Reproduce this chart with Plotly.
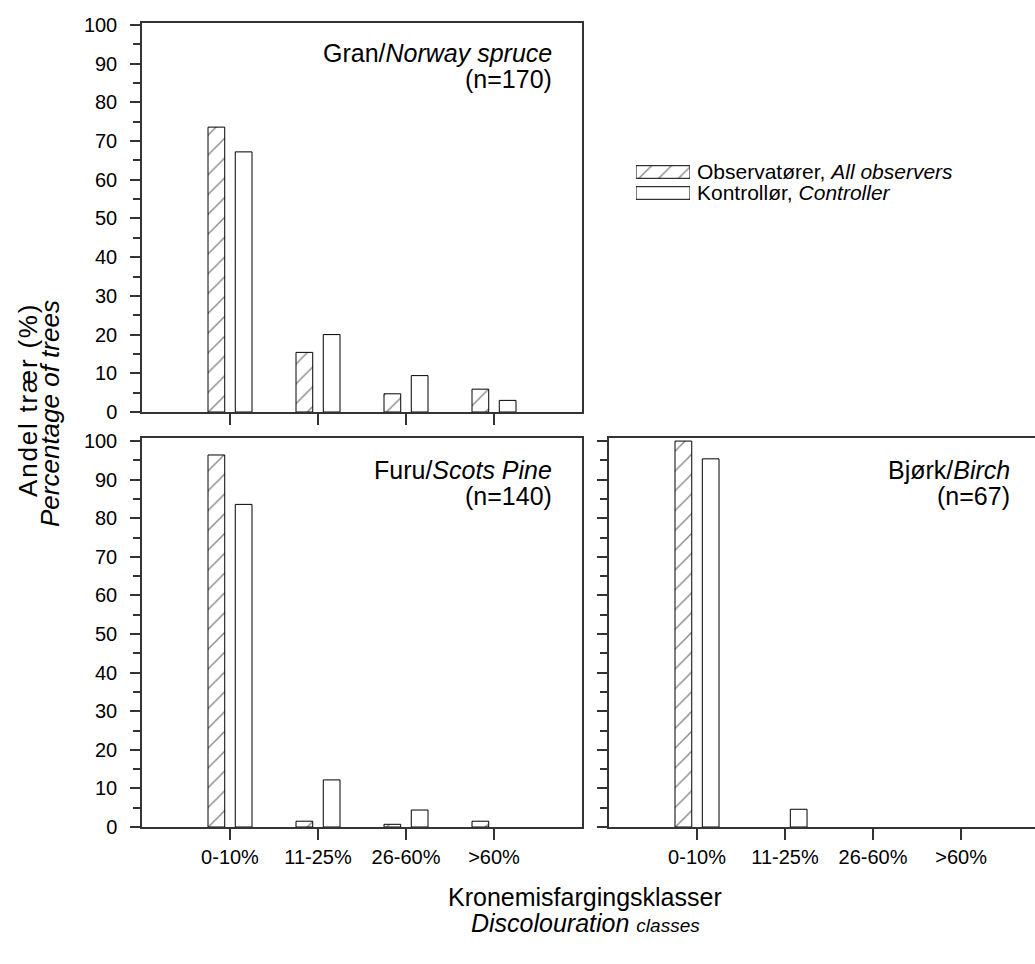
import plotly.graph_objects as go

W, H = 1035, 964

categories = ["0-10%", "11-25%", "26-60%", ">60%"]
series_names = ["Observatører, <i>All observers</i>", "Kontrollør, <i>Controller</i>"]

gran_obs = [73.6, 15.4, 4.7, 5.9]
gran_ctrl = [67.2, 20.0, 9.4, 3.0]
furu_obs = [96.4, 1.5, 0.7, 1.5]
furu_ctrl = [83.6, 12.2, 4.4, 0.0]
bjork_obs = [100.0, 0.0, 0.0, 0.0]
bjork_ctrl = [95.4, 4.6, 0.0, 0.0]

FONT = "Liberation Sans, Arial, sans-serif"
LINE = "#333333"


def px(x):
    return x / W


def py(y):
    return 1 - y / H


def nz(vals):
    # zero-height bars are not drawn in the reference
    return [v if v > 0 else None for v in vals]


fig = go.Figure()

hatch = dict(shape="/", size=14, solidity=0.09, fgcolor="black", bgcolor="white")

panels = [
    ("x", "y", gran_obs, gran_ctrl),
    ("x2", "y2", furu_obs, furu_ctrl),
    ("x3", "y3", bjork_obs, bjork_ctrl),
]
for xa, ya, obs, ctrl in panels:
    fig.add_trace(go.Bar(x=categories, y=nz(obs), xaxis=xa, yaxis=ya, offset=-0.25, width=0.19,
                         marker=dict(color="white", pattern=hatch, line=dict(color="black", width=1)),
                         showlegend=False))
    fig.add_trace(go.Bar(x=categories, y=nz(ctrl), xaxis=xa, yaxis=ya, offset=0.06, width=0.19,
                         marker=dict(color="white", line=dict(color="black", width=1)),
                         showlegend=False))

# legend swatches drawn on a small hidden axis
fig.add_trace(go.Bar(y=[series_names[0]], x=[1], orientation="h", xaxis="x4", yaxis="y4", width=0.6,
                     marker=dict(color="white", pattern=hatch, line=dict(color="black", width=1)),
                     showlegend=False))
fig.add_trace(go.Bar(y=[series_names[1]], x=[1], orientation="h", xaxis="x4", yaxis="y4", width=0.6,
                     marker=dict(color="white", line=dict(color="black", width=1)),
                     showlegend=False))

xcommon = dict(type="category", range=[-1, 4], showline=True, linecolor=LINE, linewidth=1.5,
               mirror=True, ticks="outside", ticklen=11, tickwidth=1.5, tickcolor=LINE,
               tickfont=dict(family=FONT, size=20, color="black"), showgrid=False, zeroline=False,
               fixedrange=True, automargin=False)
ycommon = dict(range=[0, 100.6], tickvals=list(range(0, 101, 10)), showline=True, linecolor=LINE,
               linewidth=1.5, mirror=True, ticks="outside", ticklen=10, tickwidth=1.5, tickcolor=LINE,
               minor=dict(dtick=5, ticklen=7, tickwidth=1.5, tickcolor=LINE, ticks="outside"),
               tickfont=dict(family=FONT, size=20, color="black"), showgrid=False, zeroline=False,
               automargin=False, ticklabelstandoff=9)

fig.update_layout(
    width=W, height=H, margin=dict(l=0, r=0, t=0, b=0, pad=0), autosize=False,
    paper_bgcolor="white", plot_bgcolor="white", font=dict(family=FONT, color="black"),
    barmode="overlay", showlegend=False,
    xaxis=dict(xcommon, domain=[px(142), px(582)], anchor="y", showticklabels=False),
    yaxis=dict(ycommon, domain=[py(412), py(23)], anchor="x", range=[0, 100.5]),
    xaxis2=dict(xcommon, domain=[px(142), px(582)], anchor="y2"),
    yaxis2=dict(ycommon, domain=[py(827), py(438)], anchor="x2", range=[0, 100.8]),
    xaxis3=dict(xcommon, domain=[px(609), 1.0], anchor="y3", range=[-1, 3.84]),
    yaxis3=dict(ycommon, domain=[py(827), py(438)], anchor="x3", range=[0, 100.8],
                showticklabels=False),
    xaxis4=dict(domain=[px(636), px(690)], anchor="y4", range=[0, 1], visible=False,
                fixedrange=True, automargin=False),
    yaxis4=dict(domain=[py(203.5), py(161.5)], anchor="x4", type="category", range=[1.5, -0.5],
                side="right", showline=False, ticks="", showgrid=False, zeroline=False,
                tickmode="array", tickvals=series_names, ticktext=series_names,
                automargin=False, ticklabelstandoff=6,
                tickfont=dict(family=FONT, size=21, color="black")),
)

ann = []


def add_text(text, x, y, size, xanchor="center", angle=0, italic=False):
    ann.append(dict(text=text, x=px(x), y=py(y), xref="paper", yref="paper", showarrow=False,
                    xanchor=xanchor, yanchor="middle", textangle=angle,
                    font=dict(family=FONT, size=size, color="black",
                              style="italic" if italic else "normal")))


add_text("Gran/<i>Norway spruce</i>", 554, 53, 25, xanchor="right")
add_text("(n=170)", 554, 79, 25, xanchor="right")
add_text("Furu/<i>Scots Pine</i>", 554, 470, 25, xanchor="right")
add_text("(n=140)", 554, 496, 25, xanchor="right")
add_text("Bjørk/<i>Birch</i>", 1012, 470, 25, xanchor="right")
add_text("(n=67)", 1012, 496, 25, xanchor="right")

add_text("<span style='letter-spacing:1.8px'>Andel trær (%)</span>", 28, 400, 26, angle=-90)
add_text("Percentage of trees", 50, 414, 26, angle=-90, italic=True)
add_text("Kronemisfargingsklasser", 585, 897, 25)
add_text("Discolouration <span style='font-size:19px'>classes</span>", 585, 923, 25, italic=True)

fig.update_layout(annotations=ann)

fig.write_html("out.html")
